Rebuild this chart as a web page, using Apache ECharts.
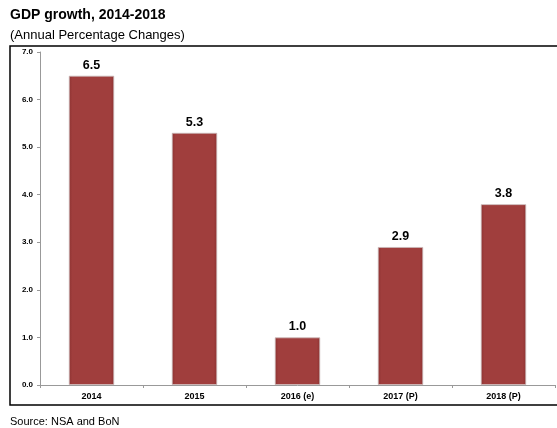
<!DOCTYPE html>
<html><head><meta charset="utf-8">
<script src="https://cdn.jsdelivr.net/npm/echarts@6/dist/echarts.min.js"></script>
<style>html,body{margin:0;padding:0;background:#fff}#c{width:557px;height:428px}</style>
</head><body><div id="c"></div>
<script>
const categories = ['2014', '2015', '2016 (e)', '2017 (P)', '2018 (P)'];
const gdpGrowth = [6.5, 5.3, 1.0, 2.9, 3.8];
const yTicks = [0, 1, 2, 3, 4, 5, 6, 7];

const chart = echarts.init(document.getElementById('c'), null, {renderer: 'canvas'});
const font = 'Arial, "Liberation Sans", sans-serif';
chart.setOption({
  animation: false,
  backgroundColor: '#fff',
  title: {
    text: 'GDP growth, 2014-2018',
    left: 10, top: 8, padding: 0,
    textStyle: {fontFamily: font, fontSize: 14, fontWeight: 'bold', color: '#000'}
  },
  graphic: [
    {type: 'text', left: 10, top: 29, style: {text: '(Annual Percentage Changes)', font: '13px Arial, "Liberation Sans", sans-serif', fill: '#000'}},
    {type: 'rect', shape: {x: 10, y: 46, width: 560, height: 359}, style: {fill: 'none', stroke: '#000', lineWidth: 1.5}, z: 10},
    {type: 'text', left: 10, top: 416, style: {text: 'Source: NSA and BoN', font: '11px Arial, "Liberation Sans", sans-serif', fill: '#000'}}
  ],
  grid: {left: 40, right: 2, top: 52, bottom: 43},
  xAxis: {
    type: 'category',
    data: categories,
    axisLine: {lineStyle: {color: '#999', width: 1}},
    axisTick: {show: true, length: 3, lineStyle: {color: '#999'}},
    axisLabel: {fontFamily: font, fontSize: 9, fontWeight: 'bold', color: '#000', margin: 7}
  },
  yAxis: {
    type: 'value',
    min: yTicks[0], max: yTicks[yTicks.length - 1], interval: 1,
    splitLine: {show: false},
    axisLine: {show: true, lineStyle: {color: '#999', width: 1}},
    axisTick: {show: true, length: 3, lineStyle: {color: '#999'}},
    axisLabel: {fontFamily: font, fontSize: 8, fontWeight: 'bold', color: '#000', margin: 7,
      formatter: v => v.toFixed(1)}
  },
  series: [{
    type: 'bar',
    data: gdpGrowth,
    barWidth: '44%',
    itemStyle: {
      color: new echarts.graphic.LinearGradient(0, 0, 1, 0, [
        {offset: 0, color: '#8e3433'},
        {offset: 0.08, color: '#a03e3d'},
        {offset: 0.92, color: '#a03e3d'},
        {offset: 1, color: '#8e3433'}
      ]),
      borderColor: '#c9b9b9',
      borderWidth: 0.8
    },
    label: {
      show: true, position: 'top', distance: 4,
      fontFamily: font, fontSize: 12.5, fontWeight: 'bold', color: '#000',
      formatter: p => p.value.toFixed(1)
    }
  }]
});
</script></body></html>
